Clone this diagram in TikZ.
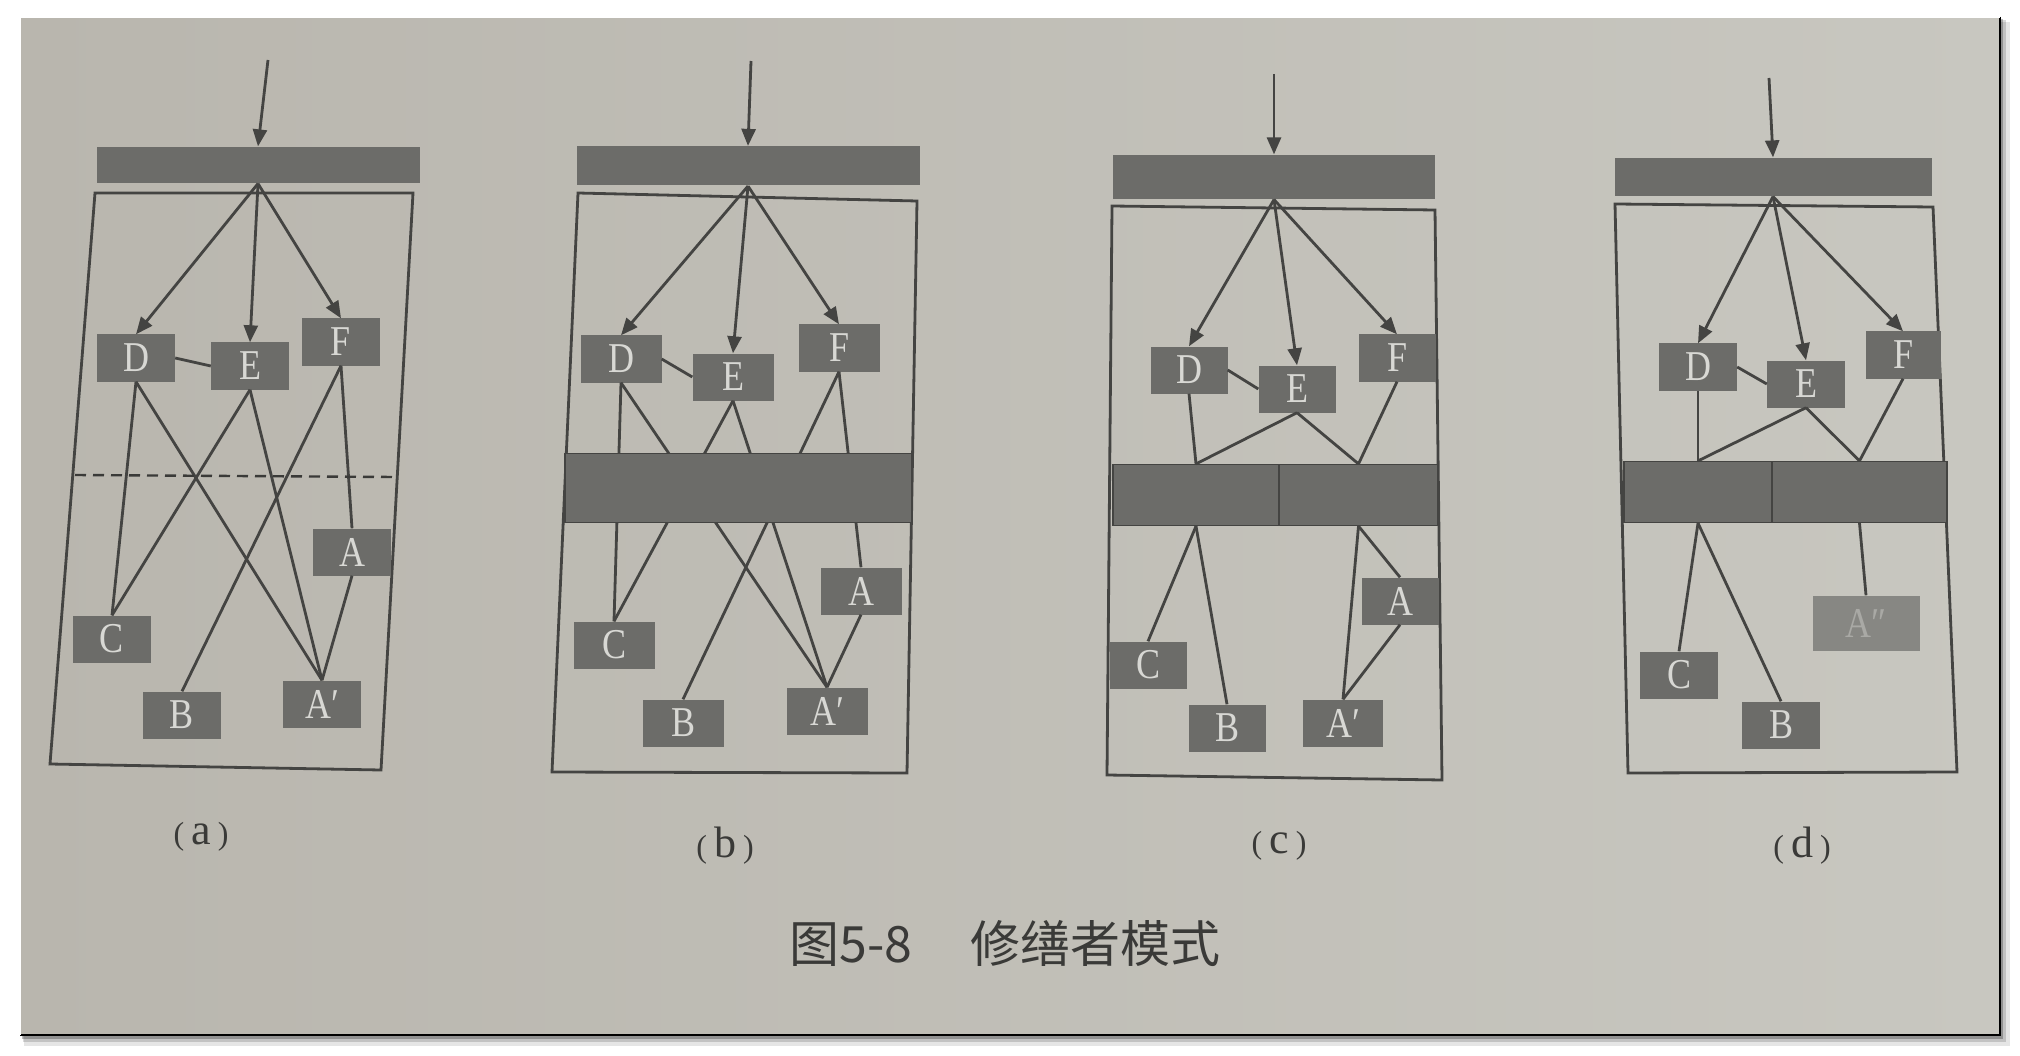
\documentclass[tikz,border=0pt]{standalone}
\usepackage{fontspec}
\usepackage{graphicx}
\setmainfont{Liberation Serif}
\newfontfamily\cjk{Noto Sans CJK SC}
\usetikzlibrary{arrows.meta}
\newcommand{\boxlet}[1]{\scalebox{1}[1.18]{#1}}
\newcommand{\sublab}[1]{{\fontsize{32}{32}\selectfont(}\hspace{7pt}{\fontsize{44}{44}\selectfont #1}\hspace{7pt}{\fontsize{32}{32}\selectfont)}}
\definecolor{paperL}{HTML}{B9B6AE}
\definecolor{paperR}{HTML}{C8C7C0}
\definecolor{boxgray}{HTML}{6C6C69}
\definecolor{boxtext}{HTML}{D8D8D4}
\definecolor{linegray}{HTML}{444442}
\definecolor{capgray}{HTML}{3A3A38}
\definecolor{ghostfill}{HTML}{878783}
\definecolor{ghosttext}{HTML}{A9A9A5}
\tikzset{
  lbox/.style={fill=boxgray, text=boxtext, minimum width=78pt, minimum height=47pt,
    inner sep=0pt, font=\fontsize{36}{36}\selectfont},
  bar/.style={fill=boxgray, draw=linegray, line width=1.2pt, inner sep=0pt},
  conn/.style={draw=linegray, line width=2.8pt},
  arr/.style={conn, -{Triangle[length=17pt,width=14pt]}},
  frame/.style={draw=linegray, line width=2.8pt, line join=miter},
  sublabel/.style={text=capgray},
}
\begin{document}
\begin{tikzpicture}[x=1pt,y=-1pt]
\useasboundingbox (0,0) rectangle (2020,1056);
% photo background
\fill[white] (0,0) rectangle (2020,1056);
\fill[black, opacity=0.10] (24,22) rectangle (2010,1046);
\fill[black, opacity=0.15] (23,20) rectangle (2006,1042);
\fill[black, opacity=0.25] (22,19) rectangle (2003,1039);
\shade[left color=paperL, right color=paperR] (20,17) rectangle (2000,1035);
\draw[black, line width=2pt] (20,1035) -- (2000,1035) -- (2000,17);
\draw[white, line width=1.5pt] (20,1035) -- (20,17) -- (2000,17);

% ================= (a) =================
\draw[frame] (95,193) -- (413,193) -- (381,770) -- (50,764) -- cycle;
\node[bar, minimum width=323pt, minimum height=36pt, draw=none] (aTop) at (258,165) {};
\coordinate (aIn) at (268,60);
\node[lbox] (aD) at (136,358) {\boxlet{D}};
\node[lbox] (aE) at (250,366) {\boxlet{E}};
\node[lbox] (aF) at (341,342) {\boxlet{F}};
\node[lbox] (aA) at (352,552) {\boxlet{A}};
\node[lbox] (aC) at (112,639) {\boxlet{C}};
\node[lbox] (aB) at (182,715) {\boxlet{B}};
\node[lbox] (aAp) at (322,704) {\boxlet{A′}};
\draw[arr] (aIn) -- (aTop.north);
\draw[arr] (aTop.south) -- (aD.north);
\draw[arr] (aTop.south) -- (aE.north);
\draw[arr] (aTop.south) -- (aF.north);
\draw[conn] (aD.east) -- (aE.west);
\draw[conn] (aD.south) -- (aC.north);
\draw[conn] (aD.south) -- (aAp.north);
\draw[conn] (aE.south) -- (aC.north);
\draw[conn] (aE.south) -- (aAp.north);
\draw[conn] (aF.south) -- (aB.north);
\draw[conn] (aF.south) -- (aA.north);
\draw[conn] (aA.south) -- (aAp.north);
\coordinate (aDashL) at (75,475);
\coordinate (aDashR) at (395,477);
\draw[draw=capgray, line width=2.4pt, dash pattern=on 11pt off 7pt] (aDashL) -- (aDashR);
\node[sublabel] (aLab) at (201,837) {\sublab{a}};

% ================= (b) =================
\draw[frame] (578,193) -- (917,201) -- (907,773) -- (552,772) -- cycle;
\node[bar, minimum width=343pt, minimum height=39pt, draw=none] (bTop) at (748,166) {};
\coordinate (bIn) at (751,61);
\node[lbox, minimum width=81pt] (bD) at (621,359) {\boxlet{D}};
\node[lbox, minimum width=81pt] (bE) at (733,377) {\boxlet{E}};
\node[lbox, minimum width=81pt] (bF) at (839,348) {\boxlet{F}};
\node[lbox, minimum width=81pt] (bA) at (861,591) {\boxlet{A}};
\node[lbox, minimum width=81pt] (bC) at (614,645) {\boxlet{C}};
\node[lbox, minimum width=81pt] (bB) at (683,723) {\boxlet{B}};
\node[lbox, minimum width=81pt] (bAp) at (827,711) {\boxlet{A′}};
\draw[arr] (bIn) -- (bTop.north);
\draw[arr] (bTop.south) -- (bD.north);
\draw[arr] (bTop.south) -- (bE.north);
\draw[arr] (bTop.south) -- (bF.north);
\draw[conn] (bD.east) -- (bE.west);
\draw[conn] (bD.south) -- (bC.north);
\draw[conn] (bD.south) -- (bAp.north);
\draw[conn] (bE.south) -- (bC.north);
\draw[conn] (bE.south) -- (bAp.north);
\draw[conn] (bF.south) -- (bB.north);
\draw[conn] (bF.south) -- (bA.north);
\draw[conn] (bA.south) -- (bAp.north);
\node[bar, minimum width=347pt, minimum height=69pt] (bMid) at (738.5,488) {};
\node[sublabel] (bLab) at (725,846) {\sublab{b}};

% ================= (c) =================
\draw[frame] (1112,206) -- (1435,210) -- (1442,780) -- (1107,775) -- cycle;
\node[bar, minimum width=322pt, minimum height=44pt, draw=none] (cTop) at (1274,177) {};
\coordinate (cIn) at (1274,74);
\node[lbox, minimum width=77pt] (cD) at (1189,370) {\boxlet{D}};
\node[lbox, minimum width=77pt] (cE) at (1297,389) {\boxlet{E}};
\node[lbox, minimum width=77pt] (cF) at (1397,358) {\boxlet{F}};
\node[lbox, minimum width=77pt] (cC) at (1148,665) {\boxlet{C}};
\node[lbox, minimum width=77pt] (cB) at (1227,728) {\boxlet{B}};
\node[lbox, minimum width=80pt] (cAp) at (1343,723) {\boxlet{A′}};
\node[lbox, minimum width=77pt] (cA) at (1400,601) {\boxlet{A}};
\node[bar, minimum width=166pt, minimum height=61pt] (cL) at (1196,495) {};
\node[bar, minimum width=159pt, minimum height=61pt] (cR) at (1358.5,495) {};
\draw[arr] (cIn) -- (cTop.north);
\draw[arr] (cTop.south) -- (cD.north);
\draw[arr] (cTop.south) -- (cE.north);
\draw[arr] (cTop.south) -- (cF.north);
\draw[conn] (cD.east) -- (cE.west);
\draw[conn] (cD.south) -- (cL.north);
\draw[conn] (cE.south) -- (cL.north);
\draw[conn] (cE.south) -- (cR.north);
\draw[conn] (cF.south) -- (cR.north);
\draw[conn] (cL.south) -- (cC.north);
\draw[conn] (cL.south) -- (cB.north);
\draw[conn] (cR.south) -- (cAp.north);
\draw[conn] (cR.south) -- (cA.north);
\draw[conn] (cA.south) -- (cAp.north);
\node[sublabel] (cLab) at (1279,846) {\sublab{c}};

% ================= (d) =================
\draw[frame] (1615,204) -- (1933,207) -- (1957,772) -- (1628,773) -- cycle;
\node[bar, minimum width=317pt, minimum height=38pt, draw=none] (dTop) at (1773,177) {};
\coordinate (dIn) at (1769,78);
\node[lbox] (dD) at (1698,367) {\boxlet{D}};
\node[lbox] (dE) at (1806,384) {\boxlet{E}};
\node[lbox, minimum width=75pt] (dF) at (1903,355) {\boxlet{F}};
\node[lbox] (dC) at (1679,675) {\boxlet{C}};
\node[lbox] (dB) at (1781,725) {\boxlet{B}};
\node[lbox, fill=ghostfill, text=ghosttext, minimum width=107pt, minimum height=55pt] (dApp) at (1866,623) {\boxlet{A″}};
\node[bar, minimum width=148pt, minimum height=61pt] (dL) at (1698,492) {};
\node[bar, minimum width=175pt, minimum height=61pt] (dR) at (1859.5,492) {};
\draw[arr] (dIn) -- (dTop.north);
\draw[arr] (dTop.south) -- (dD.north);
\draw[arr] (dTop.south) -- (dE.north);
\draw[arr] (dTop.south) -- (dF.north);
\draw[conn] (dD.east) -- (dE.west);
\draw[conn] (dD.south) -- (dL.north);
\draw[conn] (dE.south) -- (dL.north);
\draw[conn] (dE.south) -- (dR.north);
\draw[conn] (dF.south) -- (dR.north);
\draw[conn] (dL.south) -- (dC.north);
\draw[conn] (dL.south) -- (dB.north);
\draw[conn] (dR.south) -- (dApp.north);
\node[sublabel] (dLab) at (1802,846) {\sublab{d}};

% caption
\node[text=capgray, font=\cjk\fontsize{50}{50}\selectfont] (cap) at (1005,943) {图5-8\hspace{58pt}修缮者模式};
\end{tikzpicture}
\end{document}
